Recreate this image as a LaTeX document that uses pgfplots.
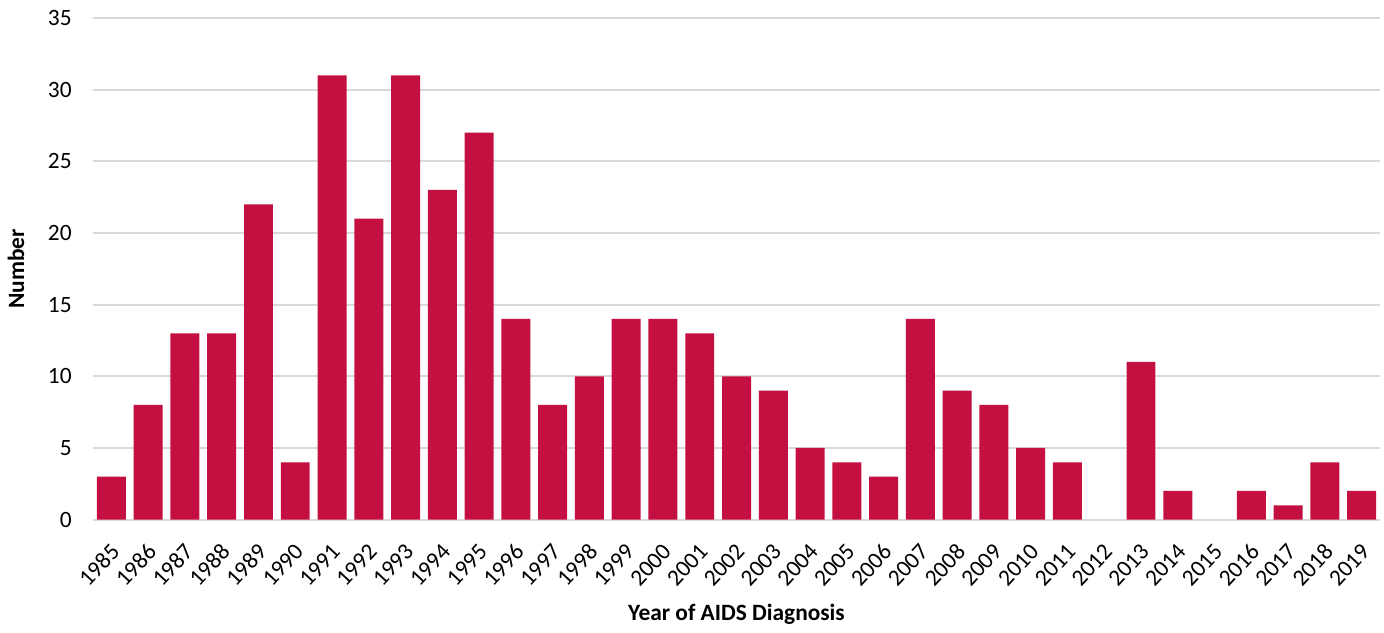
\documentclass[border=0pt]{standalone}
\usepackage{pgfplots}
\pgfplotsset{compat=1.18}
\usepackage{fontspec}
\setmainfont{Carlito}
\definecolor{barred}{RGB}{196,16,64}
\definecolor{gridgray}{RGB}{217,217,217}
\begin{document}
\fontsize{11.7pt}{14pt}\selectfont
\begin{tikzpicture}
\begin{axis}[
    name=ax,
    ybar,
    scale only axis,
    width=644pt, height=251pt,
    xmin=-0.5, xmax=34.5,
    ymin=0, ymax=35,
    ytick={0,5,...,35},
    xtick={0,1,...,34},
    xticklabels={1985,1986,1987,1988,1989,1990,1991,1992,1993,1994,1995,1996,1997,1998,1999,2000,2001,2002,2003,2004,2005,2006,2007,2008,2009,2010,2011,2012,2013,2014,2015,2016,2017,2018,2019},
    x tick label style={xshift=2pt, yshift=-14pt, rotate=47, anchor=east, inner sep=0pt},
    y tick label style={anchor=east, inner sep=0pt, xshift=-10.5pt},
    bar width=14.5pt,
    axis line style={draw=none},
    major tick length=0pt,
    ymajorgrids,
    grid style={gridgray, line width=1pt},
    /pgf/number format/assume math mode=true,
    ylabel={\textbf{Number}},
    xlabel={\textbf{Year of AIDS Diagnosis}},
    ylabel style={at={(axis description cs:0,0.5)}, anchor=center, yshift=38.5pt},
    xlabel style={at={(axis description cs:0.5,0)}, anchor=center, yshift=-47.5pt},
    tick label style={font=\fontsize{11.7pt}{14pt}\selectfont},
    label style={font=\fontsize{11.7pt}{14pt}\selectfont},
]
\addplot[draw=none, fill=barred] coordinates {
(0,3) (1,8) (2,13) (3,13) (4,22) (5,4) (6,31) (7,21) (8,31) (9,23)
(10,27) (11,14) (12,8) (13,10) (14,14) (15,14) (16,13) (17,10) (18,9) (19,5)
(20,4) (21,3) (22,14) (23,9) (24,8) (25,5) (26,4) (28,11) (29,2)
(31,2) (32,1) (33,4) (34,2)
};
\end{axis}
\path ([xshift=-46pt,yshift=9pt]ax.north west) ([xshift=2pt,yshift=-54pt]ax.south east);
\end{tikzpicture}
\end{document}
